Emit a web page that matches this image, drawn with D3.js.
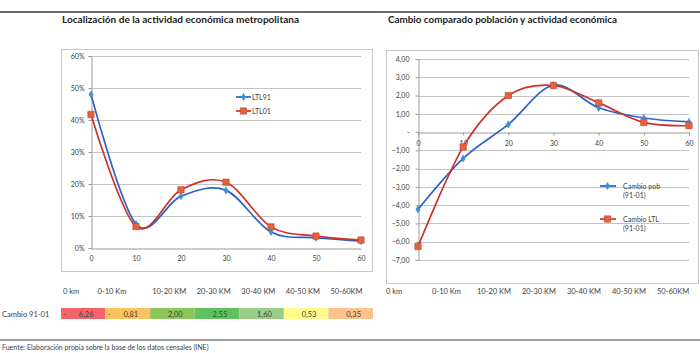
<!DOCTYPE html>
<html>
<head>
<meta charset="utf-8">
<script src="https://cdn.jsdelivr.net/npm/d3@7"></script>
<style>
  body { margin: 0; background: #fff; }
  text { font-family: Lato, "Open Sans", sans-serif; fill: #404040; }
</style>
</head>
<body>
<div id="chart"></div>
<script>
// distancias y series
const dist = [0, 10, 20, 30, 40, 50, 60];
const ltl91 = [48.0, 7.5, 16.2, 18.0, 5.0, 3.2, 2.15];
const ltl01 = [41.74, 6.69, 18.2, 20.55, 6.6, 3.73, 2.5];
const cambioPob = [-4.23, -1.44, 0.42, 2.57, 1.33, 0.77, 0.56];
const cambioLtl = [-6.26, -0.81, 2.00, 2.55, 1.60, 0.53, 0.35];
const tramos = ["0 km", "0-10 Km", "10-20 KM", "20-30 KM", "30-40 KM", "40-50 KM", "50-60KM"];
const pctTicks = [0, 10, 20, 30, 40, 50, 60];
const cambioTicks = [4, 3, 2, 1, 0, -1, -2, -3, -4, -5, -6, -7];

const cellColors = ["#f4646a", "#fbc35f", "#8cc65a", "#5ec35e", "#98cc8a", "#fdfd8e", "#fbc28c"];
const blue = "#2a62c8", blueMk = "#3d8fdc", red = "#d0302a", redMk = "#e2643e";

const width = 700, height = 353;
const svg = d3.select("#chart").append("svg")
    .attr("width", width)
    .attr("height", height);

const fmt = v => v === 0 ? "-" : d3.format(".2f")(v).replace(".", ",");

// reglas horizontales
svg.append("line").attr("x1", 0).attr("x2", width).attr("y1", 12).attr("y2", 12)
    .attr("stroke", "#3a3a3a").attr("stroke-width", 1.5);
svg.append("line").attr("x1", 0).attr("x2", width).attr("y1", 340).attr("y2", 340)
    .attr("stroke", "#3a3a3a").attr("stroke-width", 1);

// titulos
svg.append("text").attr("x", 62).attr("y", 23).attr("font-size", 10).attr("font-weight", "bold")
    .attr("textLength", 237).attr("lengthAdjust", "spacingAndGlyphs")
    .style("fill", "#1a1a1a").text("Localización de la actividad económica metropolitana");
svg.append("text").attr("x", 388).attr("y", 23).attr("font-size", 10).attr("font-weight", "bold")
    .attr("textLength", 229).attr("lengthAdjust", "spacingAndGlyphs")
    .style("fill", "#1a1a1a").text("Cambio comparado población y actividad económica");

// marcos
svg.append("rect").attr("x", 61.5).attr("y", 49.5).attr("width", 311).attr("height", 222)
    .attr("fill", "none").attr("stroke", "#c8c8c8");
svg.append("rect").attr("x", 386.5).attr("y", 50.5).attr("width", 312).attr("height", 233)
    .attr("fill", "none").attr("stroke", "#c8c8c8");

const curve = d3.curveCatmullRom.alpha(0);
const diamond = d3.symbol().type(d3.symbolDiamond).size(15)();
const square = d3.symbol().type(d3.symbolSquare).size(40)();

function drawSeries(g, x, y, values, color, mkColor, marker) {
    const line = d3.line().x((d, i) => x(dist[i])).y(d => y(d)).curve(curve);
    g.append("path").datum(values).attr("d", line)
        .attr("fill", "none").attr("stroke", color).attr("stroke-width", 1.7);
    g.selectAll(null).data(values).enter().append("path")
        .attr("transform", (d, i) => `translate(${x(dist[i])},${y(d)})`)
        .attr("d", marker)
        .attr("fill", mkColor)
        .attr("stroke", marker === square ? "#c0402a" : mkColor)
        .attr("stroke-width", 0.6);
}

// ---------- grafico izquierdo ----------
const xL = d3.scaleLinear().domain([0, 60]).range([91, 361]);
const yL = d3.scaleLinear().domain([0, 60]).range([248, 56]);
const gL = svg.append("g");

gL.selectAll(".grid").data(pctTicks.filter(t => t > 0)).enter().append("line")
    .attr("x1", xL(0)).attr("x2", xL(60)).attr("y1", d => yL(d) + .5).attr("y2", d => yL(d) + .5)
    .attr("stroke", "#c4c4c4");

gL.append("g").attr("transform", `translate(${xL(0) + .5},0)`)
    .call(d3.axisLeft(yL).tickValues(pctTicks).tickSize(3).tickFormat(d => d + "%"))
    .call(a => a.select(".domain").attr("stroke", "#9a9a9a"))
    .call(a => a.selectAll(".tick line").attr("stroke", "#9a9a9a"))
    .call(a => a.selectAll("text").attr("font-size", 7).attr("x", -7).style("fill", "#404040"));

gL.append("g").attr("transform", `translate(0,${yL(0) + .5})`)
    .call(d3.axisBottom(xL).tickValues(dist).tickSize(0).tickPadding(8))
    .call(a => a.select(".domain").attr("stroke", "#9a9a9a"))
    .call(a => a.selectAll("text").attr("font-size", 7).style("fill", "#404040"));

drawSeries(gL, xL, yL, ltl91, blue, blueMk, diamond);
drawSeries(gL, xL, yL, ltl01, red, redMk, square);

// leyenda izquierda
[{ name: "LTL91", c: blue, m: blueMk, s: diamond, y: 97 },
 { name: "LTL01", c: red, m: redMk, s: square, y: 111 }].forEach(l => {
    gL.append("line").attr("x1", 236).attr("x2", 251).attr("y1", l.y).attr("y2", l.y)
        .attr("stroke", l.c).attr("stroke-width", 1.7);
    gL.append("path").attr("transform", `translate(243.5,${l.y})`).attr("d", l.s)
        .attr("fill", l.m).attr("stroke", l.s === square ? "#c0402a" : l.m).attr("stroke-width", .6);
    gL.append("text").attr("x", 252).attr("y", l.y + 2.5).attr("font-size", 7).text(l.name);
});

// tabla de cambios
const band = d3.scaleBand().domain(tramos).range([61, 373]);
const gT = svg.append("g");
gT.selectAll(".lbl").data(tramos).enter().append("text")
    .attr("x", (d, i) => band(d) + (i === 1 ? -8 : 2))
    .attr("y", 294).attr("font-size", 7.5).text(d => d);

gT.selectAll(".cell").data(cambioLtl).enter().append("rect")
    .attr("x", (d, i) => band(tramos[i])).attr("y", 308)
    .attr("width", band.bandwidth()).attr("height", 11)
    .attr("fill", (d, i) => cellColors[i]);
gT.selectAll(".neg").data(cambioLtl).enter().filter(d => d < 0).append("text")
    .attr("x", d => band(tramos[cambioLtl.indexOf(d)]) + 2)
    .attr("y", 316.5).attr("font-size", 7.5).text("-");
gT.selectAll(".val").data(cambioLtl).enter().append("text")
    .attr("x", (d, i) => band(tramos[i]) + band.bandwidth() - 12)
    .attr("y", 316.5).attr("font-size", 7.5).attr("text-anchor", "end")
    .text(d => d3.format(".2f")(Math.abs(d)).replace(".", ","));
svg.append("text").attr("x", 2).attr("y", 316.5).attr("font-size", 7.5).text("Cambio 91-01");

// ---------- grafico derecho ----------
const xR = d3.scaleLinear().domain([0, 60]).range([418, 689]);
const yR = d3.scaleLinear().domain([-7, 4]).range([260, 59]);
const gR = svg.append("g");

gR.selectAll(".grid").data(cambioTicks.filter(t => t !== 0)).enter().append("line")
    .attr("x1", xR(0)).attr("x2", xR(60)).attr("y1", d => Math.round(yR(d)) + .5).attr("y2", d => Math.round(yR(d)) + .5)
    .attr("stroke", "#c4c4c4");

gR.append("g").attr("transform", `translate(${xR(0) + .5},0)`)
    .call(d3.axisLeft(yR).tickValues(cambioTicks).tickSize(3).tickFormat(fmt))
    .call(a => a.select(".domain").attr("stroke", "#9a9a9a"))
    .call(a => a.selectAll(".tick line").attr("stroke", "#9a9a9a"))
    .call(a => a.selectAll("text").attr("font-size", 7).attr("x", -9).style("fill", "#404040"));

gR.append("g").attr("transform", `translate(0,${Math.round(yR(0)) + .5})`)
    .call(d3.axisBottom(xR).tickValues(dist).tickSize(3).tickPadding(6))
    .call(a => a.select(".domain").attr("stroke", "#9a9a9a"))
    .call(a => a.selectAll(".tick line").attr("stroke", "#9a9a9a"))
    .call(a => a.selectAll("text").attr("font-size", 7).style("fill", "#404040"));

drawSeries(gR, xR, yR, cambioPob, blue, blueMk, diamond);
drawSeries(gR, xR, yR, cambioLtl, red, redMk, square);

// leyenda derecha
[{ name: "Cambio pob", c: blue, m: blueMk, s: diamond, y: 186 },
 { name: "Cambio LTL", c: red, m: redMk, s: square, y: 219 }].forEach(l => {
    gR.append("line").attr("x1", 600).attr("x2", 616).attr("y1", l.y).attr("y2", l.y)
        .attr("stroke", l.c).attr("stroke-width", 1.7);
    gR.append("path").attr("transform", `translate(607.5,${l.y})`).attr("d", l.s)
        .attr("fill", l.m).attr("stroke", l.s === square ? "#c0402a" : l.m).attr("stroke-width", .6);
    gR.append("text").attr("x", 623).attr("y", l.y + 2.5).attr("font-size", 7).text(l.name);
    gR.append("text").attr("x", 623).attr("y", l.y + 11.5).attr("font-size", 7).text("(91-01)");
});

const bandR = d3.scaleBand().domain(tramos).range([386, 701]);
gR.selectAll(".lblR").data(tramos).enter().append("text")
    .attr("x", (d, i) => bandR(d) + (i === 0 ? 0 : 1))
    .attr("y", 294).attr("font-size", 7.5).text(d => d);

// fuente
svg.append("text").attr("x", 2).attr("y", 350).attr("font-size", 7)
    .text("Fuente: Elaboración propia sobre la base de los datos censales (INE)");
</script>
</body>
</html>
